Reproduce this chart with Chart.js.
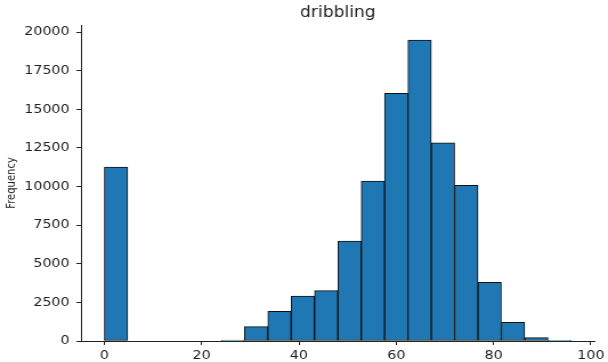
<!DOCTYPE html>
<html>
<head>
<meta charset="utf-8">
<title>dribbling</title>
<script src="https://cdn.jsdelivr.net/npm/chart.js@4/dist/chart.umd.min.js"></script>
<style>
  html, body { margin: 0; padding: 0; background: #fff; overflow: hidden; }
  #wrap {
    width: 533px;
    height: 362px;
    transform: scaleX(1.1407);
    transform-origin: 0 0;
  }
</style>
</head>
<body>
<div id="wrap"><canvas id="hist" width="533" height="362"></canvas></div>
<script>
// histogram of the dribbling rating, 20 equal bins
const binEdges = [0, 4.8, 9.6, 14.4, 19.2, 24, 28.8, 33.6, 38.4, 43.2, 48,
                  52.8, 57.6, 62.4, 67.2, 72, 76.8, 81.6, 86.4, 91.2, 96];
const counts = [11250, 0, 0, 0, 0, 60, 930, 1920, 2910, 3260,
                6470, 10350, 16030, 19480, 12820, 10080, 3800, 1210, 220, 20];
const xTicks = [0, 20, 40, 60, 80, 100];
const yTicks = [0, 2500, 5000, 7500, 10000, 12500, 15000, 17500, 20000];

const ink = '#222';
const font = 'DejaVu Sans';

const bars = counts.map((c, i) => ({ x: (binEdges[i] + binEdges[i + 1]) / 2, y: c }));

// same 5% padding the plot gets around the data range
const xPad = (binEdges[binEdges.length - 1] - binEdges[0]) * 0.05;
const yTop = Math.max(...counts) * 1.05;

new Chart(document.getElementById('hist'), {
  type: 'bar',
  data: {
    datasets: [{
      data: bars,
      backgroundColor: '#1f77b4',
      borderColor: '#111',
      borderWidth: 1,
      borderSkipped: false,
      barPercentage: 1,
      categoryPercentage: 1
    }]
  },
  options: {
    responsive: false,
    animation: false,
    layout: { padding: { left: 0, right: 9, top: 0, bottom: 0 } },
    plugins: {
      legend: { display: false },
      tooltip: { enabled: false },
      title: {
        display: true,
        text: 'dribbling',
        fullSize: false,
        color: ink,
        font: { family: font, size: 15, weight: 'normal' },
        padding: { top: 4, bottom: 3 }
      }
    },
    scales: {
      x: {
        type: 'linear',
        min: binEdges[0] - xPad,
        max: binEdges[binEdges.length - 1] + xPad,
        offset: false,
        afterBuildTicks: axis => { axis.ticks = xTicks.map(v => ({ value: v })); },
        afterFit: axis => { axis.height = 21; },
        grid: { display: true, drawOnChartArea: false, offset: false, tickLength: 4, color: ink },
        border: { display: true, color: ink, width: 1 },
        ticks: {
          color: ink,
          padding: 3,
          maxRotation: 0,
          font: { family: font, size: 12.5 },
          callback: v => String(v)
        }
      },
      y: {
        min: 0,
        max: yTop,
        afterBuildTicks: axis => { axis.ticks = yTicks.map(v => ({ value: v })); },
        afterFit: axis => { axis.width = 71; },
        grid: { display: true, drawOnChartArea: false, tickLength: 4, color: ink },
        border: { display: true, color: ink, width: 1 },
        title: {
          display: true,
          text: 'Frequency',
          color: ink,
          font: { family: font, size: 10 },
          padding: { top: 4.5, bottom: 0 }
        },
        ticks: {
          color: ink,
          padding: 6,
          font: { family: font, size: 12.5 },
          callback: v => String(v)
        }
      }
    }
  }
});
</script>
</body>
</html>
